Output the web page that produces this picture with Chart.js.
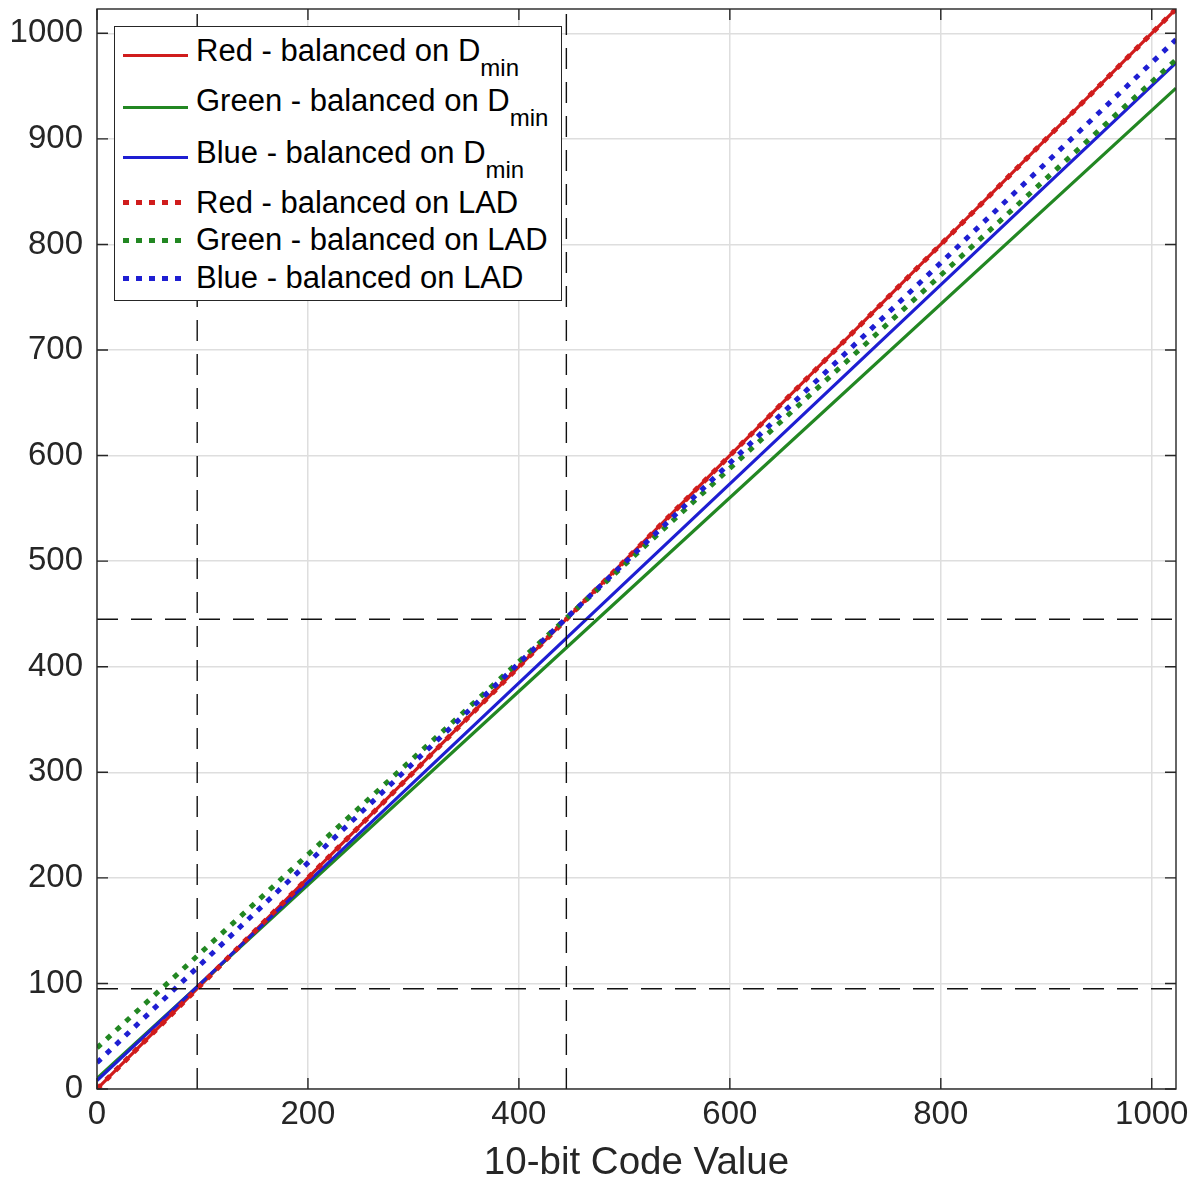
<!DOCTYPE html>
<html>
<head>
<meta charset="utf-8">
<script src="https://cdn.jsdelivr.net/npm/chart.js@4"></script>
<style>
  body { margin: 0; background: #fff; }
  #wrap { position: relative; width: 1196px; height: 1181px; font-family: "Liberation Sans", Arial, Helvetica, sans-serif; color: #000; }
  #legend { position: absolute; left: 114px; top: 26px; width: 446px; height: 273px; border: 1.5px solid #262626; background: #fff; }
  .smp { position: absolute; left: 123px; height: 3px; width: 65px; }
  .dot { position: absolute; left: 123px; height: 5px; width: 62px; }
  .txt { position: absolute; left: 196px; font-size: 31px; line-height: 31px; white-space: nowrap; }
  .txt sub { font-size: 24px; line-height: 1; vertical-align: -15px; }
</style>
</head>
<body>
<div id="wrap">
  <canvas id="myChart" width="1196" height="1181"></canvas>
  <div id="legend"></div>
</div>
<script>
const ctx = document.getElementById('myChart');

const codeValues = [0, 95, 445, 1023];
const redDmin   = [0, 95, 445, 1023];
const greenDmin = [10, 97, 418, 948];
const blueDmin  = [8, 97, 427, 972];
const redLAD    = [0, 95, 445, 1023];
const greenLAD  = [39, 126, 446, 975];
const blueLAD   = [25, 115, 446, 994];

// dashed reference marks (same on both axes)
const refMarks = [95, 445];

const xTicks = [0, 200, 400, 600, 800, 1000];
const yTicks = [0, 100, 200, 300, 400, 500, 600, 700, 800, 900, 1000];
const axisMax = 1023;

const RED = 'rgb(208, 28, 28)';
const GREEN = 'rgb(34, 135, 34)';
const BLUE = 'rgb(30, 30, 210)';
const INK = '#262626';

function pts(ys) {
  return codeValues.map((x, i) => ({x: x, y: ys[i]}));
}

const datasets = [
  {label: 'Red - balanced on Dmin', data: pts(redDmin), borderColor: RED, borderWidth: 3.2, order: 9},
  {label: 'Green - balanced on Dmin', data: pts(greenDmin), borderColor: GREEN, borderWidth: 3.2, order: 8},
  {label: 'Blue - balanced on Dmin', data: pts(blueDmin), borderColor: BLUE, borderWidth: 3.2, order: 7},
  {label: 'Red - balanced on LAD', data: pts(redLAD), borderColor: RED, borderWidth: 5, borderDash: [5.5, 7.5], order: 6},
  {label: 'Green - balanced on LAD', data: pts(greenLAD), borderColor: GREEN, borderWidth: 5, borderDash: [5.5, 7.5], order: 5},
  {label: 'Blue - balanced on LAD', data: pts(blueLAD), borderColor: BLUE, borderWidth: 5, borderDash: [5.5, 7.5], order: 4},
];

refMarks.forEach(function(v) {
  datasets.push({label: 'ref', data: [{x: v, y: 0}, {x: v, y: axisMax}], borderColor: '#111', borderWidth: 1.4, borderDash: [21, 13], order: 1});
  datasets.push({label: 'ref', data: [{x: 0, y: v}, {x: axisMax, y: v}], borderColor: '#111', borderWidth: 1.4, borderDash: [21, 13], order: 1});
});
datasets.forEach(function(d) {
  d.showLine = true;
  d.pointRadius = 0;
  d.fill = false;
  d.borderCapStyle = 'butt';
});

// box + inward tick marks on all four sides
const boxTicks = {
  id: 'boxTicks',
  afterDraw(chart) {
    const c = chart.ctx;
    const a = chart.chartArea;
    const xs = chart.scales.x, ys = chart.scales.y;
    const len = 11;
    c.save();
    c.strokeStyle = INK;
    c.lineWidth = 1.4;
    c.beginPath();
    xTicks.forEach(function(v) {
      const p = xs.getPixelForValue(v);
      c.moveTo(p, a.bottom); c.lineTo(p, a.bottom - len);
      c.moveTo(p, a.top); c.lineTo(p, a.top + len);
    });
    yTicks.forEach(function(v) {
      const p = ys.getPixelForValue(v);
      c.moveTo(a.left, p); c.lineTo(a.left + len, p);
      c.moveTo(a.right, p); c.lineTo(a.right - len, p);
    });
    c.stroke();
    c.strokeRect(a.left, a.top, a.right - a.left, a.bottom - a.top);
    c.restore();
  }
};

const font = '"Liberation Sans", Arial, Helvetica, sans-serif';
const plain = v => String(v);

const config = {
  type: 'scatter',
  data: {datasets: datasets},
  options: {
    responsive: false,
    animation: false,
    events: [],
    layout: {padding: {top: 9, right: 20, left: 0, bottom: 0}},
    plugins: {legend: {display: false}, tooltip: {enabled: false}},
    scales: {
      x: {
        type: 'linear', min: 0, max: axisMax,
        afterBuildTicks: function(s) { s.ticks = xTicks.map(v => ({value: v})); },
        afterFit: function(s) { s.height = 92; s.paddingLeft = 0; s.paddingRight = 0; },
        grid: {color: '#dedede', lineWidth: 1.5, drawTicks: false},
        border: {display: false},
        ticks: {color: INK, padding: 9, font: {family: font, size: 33, lineHeight: 1}, maxRotation: 0, callback: plain},
        title: {display: true, text: '10-bit Code Value', color: INK, font: {family: font, size: 38.5, lineHeight: 1}, padding: {top: 0, bottom: -2}}
      },
      y: {
        type: 'linear', min: 0, max: axisMax,
        afterBuildTicks: function(s) { s.ticks = yTicks.map(v => ({value: v})); },
        afterFit: function(s) { s.width = 97; s.paddingTop = 0; s.paddingBottom = 0; },
        grid: {color: '#dedede', lineWidth: 1.5, drawTicks: false},
        border: {display: false},
        ticks: {color: INK, padding: 14, font: {family: font, size: 33}, callback: plain}
      }
    }
  },
  plugins: [boxTicks]
};

const myChart = new Chart(ctx, config);

// legend (HTML so the D_min subscript stays real text)
const legendRows = [
  {main: 'Red - balanced on D', sub: 'min', color: RED, dotted: false, base: 61.7, mid: 55.7},
  {main: 'Green - balanced on D', sub: 'min', color: GREEN, dotted: false, base: 111.7, mid: 107},
  {main: 'Blue - balanced on D', sub: 'min', color: BLUE, dotted: false, base: 163.3, mid: 157.7},
  {main: 'Red - balanced on LAD', sub: '', color: RED, dotted: true, base: 213.3, mid: 202},
  {main: 'Green - balanced on LAD', sub: '', color: GREEN, dotted: true, base: 250.7, mid: 240},
  {main: 'Blue - balanced on LAD', sub: '', color: BLUE, dotted: true, base: 288.3, mid: 278}
];
const wrap = document.getElementById('wrap');
legendRows.forEach(function(r) {
  const s = document.createElement('div');
  if (r.dotted) {
    s.className = 'dot';
    s.style.top = (r.mid - 2.5) + 'px';
    s.style.background = 'repeating-linear-gradient(90deg, ' + r.color + ' 0 6px, transparent 6px 13px)';
  } else {
    s.className = 'smp';
    s.style.top = (r.mid - 1.5) + 'px';
    s.style.background = r.color;
  }
  wrap.appendChild(s);
  const t = document.createElement('div');
  t.className = 'txt';
  t.style.top = (r.base - 26.3) + 'px';
  t.textContent = r.main;
  if (r.sub) {
    const sb = document.createElement('sub');
    sb.textContent = r.sub;
    t.appendChild(sb);
  }
  wrap.appendChild(t);
});
</script>
</body>
</html>
